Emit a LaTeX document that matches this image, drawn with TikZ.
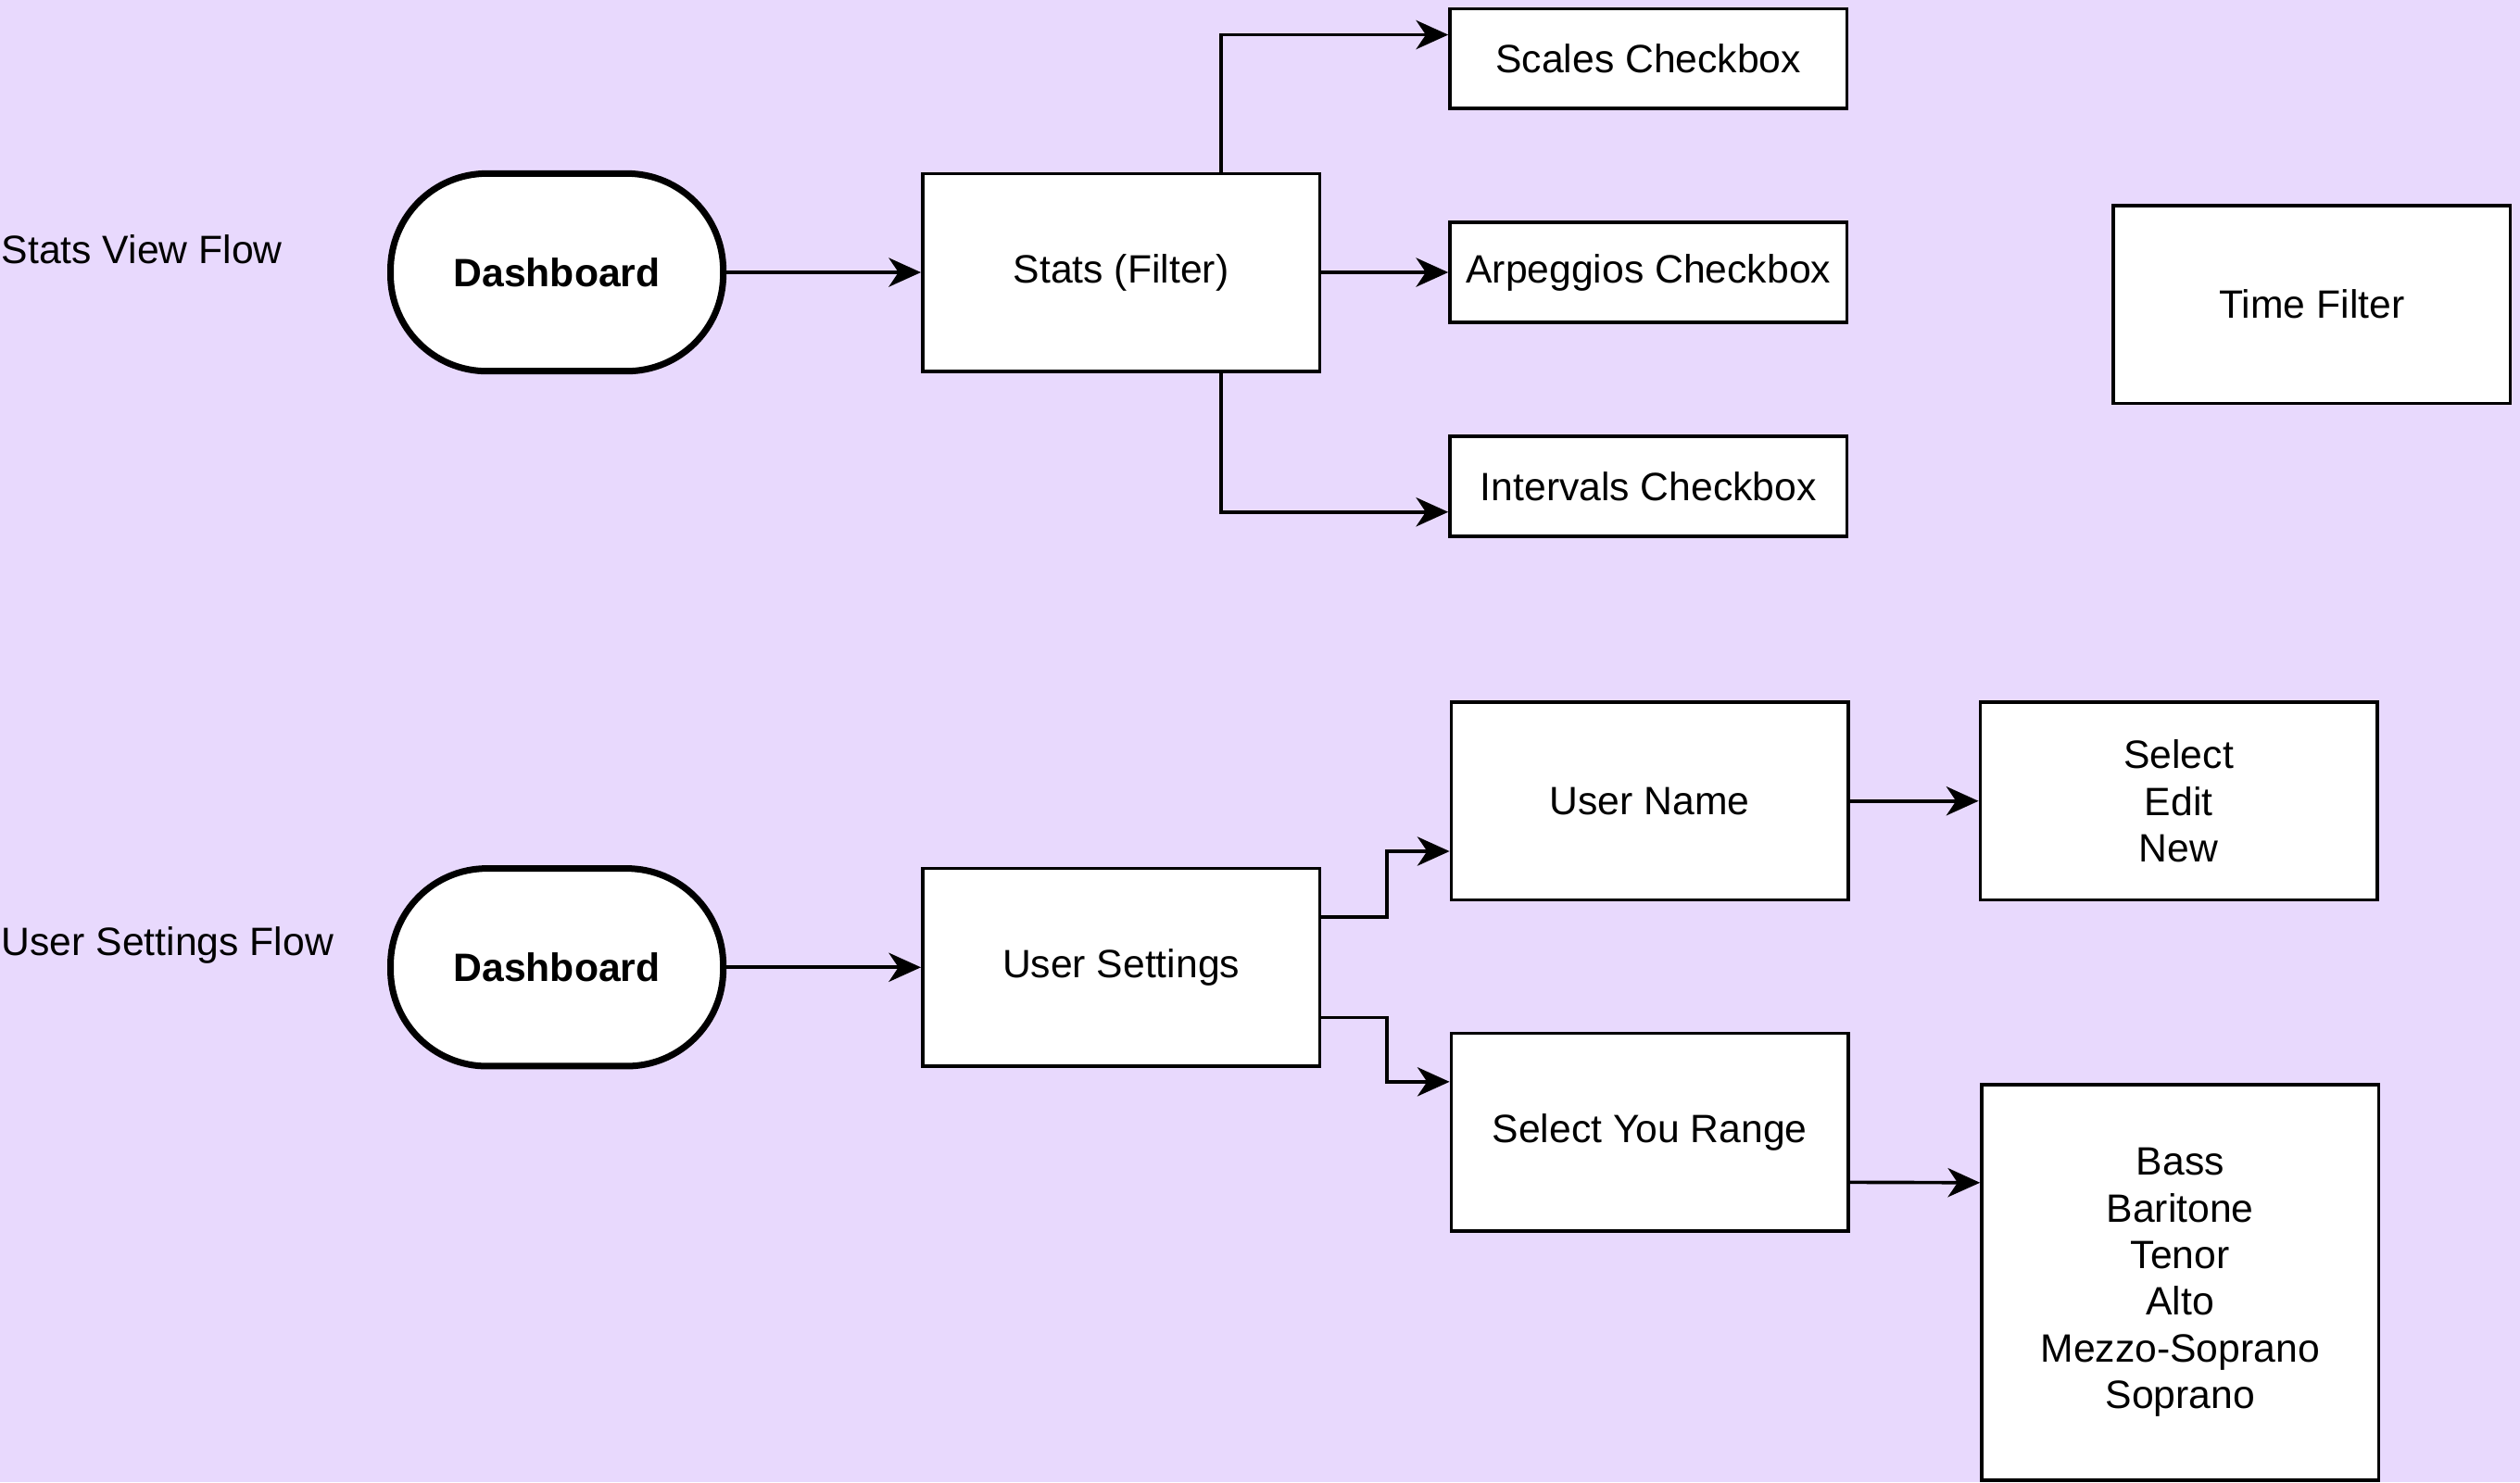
\documentclass[tikz,border=0pt]{standalone}
\usepackage{fontspec}
\setmainfont{Liberation Sans}
\usetikzlibrary{positioning,calc,arrows.meta}
\tikzset{>={Stealth[length=0.4cm,width=0.36cm,inset=0.12cm]}}
\definecolor{lavender}{HTML}{E8D9FD}

\begin{document}
\begin{tikzpicture}[
  font=\fontsize{14}{16.5}\selectfont,
  box/.style={draw,fill=white,line width=1.2pt,minimum width=4.94cm,minimum height=2.46cm,align=center},
  check/.style={box,minimum height=1.24cm},
  terminal/.style={draw,fill=white,line width=2.3pt,rounded corners=1.2cm,minimum width=4.14cm,minimum height=2.46cm,font=\fontsize{14}{16.5}\selectfont\bfseries},
  flow/.style={inner sep=0pt,anchor=west},
  every path/.style={line width=1.2pt}
]
\fill [lavender] (0,0) rectangle (31.36,-18.45);
\useasboundingbox (0,0) rectangle (31.36,-18.45);

% stats view flow
\node [flow] (statslbl) at (0,-3.1) {Stats View Flow};
\node [terminal] (dashA) at (6.93,-3.39) {Dashboard};
\node [box,right=2.42cm of dashA] (stats) {Stats (Filter)};
\node [check,right=1.58cm of stats] (arp) {Arpeggios Checkbox};
\node [check,above=1.38cm of arp] (scales) {Scales Checkbox};
\node [check,below=1.38cm of arp] (intervals) {Intervals Checkbox};
\node [box] (time) at (28.77,-3.79) {Time Filter};
\path [->] (dashA) edge (stats)
           (stats) edge (arp);
\draw [->] ($(stats.north west)!0.75!(stats.north east)$) |- ($(scales.north west)!0.27!(scales.south west)$);
\draw [->] ($(stats.south west)!0.75!(stats.south east)$) |- ($(intervals.north west)!0.75!(intervals.south west)$);

% user settings flow
\node [flow] (userlbl) at (0,-11.76) {User Settings Flow};
\node [terminal] (dashB) at (6.93,-12.04) {Dashboard};
\node [box,right=2.42cm of dashB] (usr) {User Settings};
\node [box] (uname) at (20.53,-9.97) {User Name};
\node [box,right=1.60cm of uname] (sen) {Select\\Edit\\New};
\node [box] (range) at (20.53,-14.09) {Select You Range};
\node [box,minimum height=4.92cm,anchor=north west] (voices) at (24.64,-13.48)
  {Bass\\Baritone\\Tenor\\Alto\\Mezzo-Soprano\\Soprano};
\path [->] (dashB) edge (usr)
           (uname) edge (sen);
\draw [->] ($(usr.north east)!0.25!(usr.south east)$) -- ++(0.82,0) |- ($(uname.north west)!0.75!(uname.south west)$);
\draw [->] ($(usr.north east)!0.75!(usr.south east)$) -- ++(0.82,0) |- ($(range.north west)!0.25!(range.south west)$);
\draw [->] ($(range.north east)!0.75!(range.south east)$) -- ($(voices.north west)!0.25!(voices.south west)$);
\end{tikzpicture}
\end{document}
